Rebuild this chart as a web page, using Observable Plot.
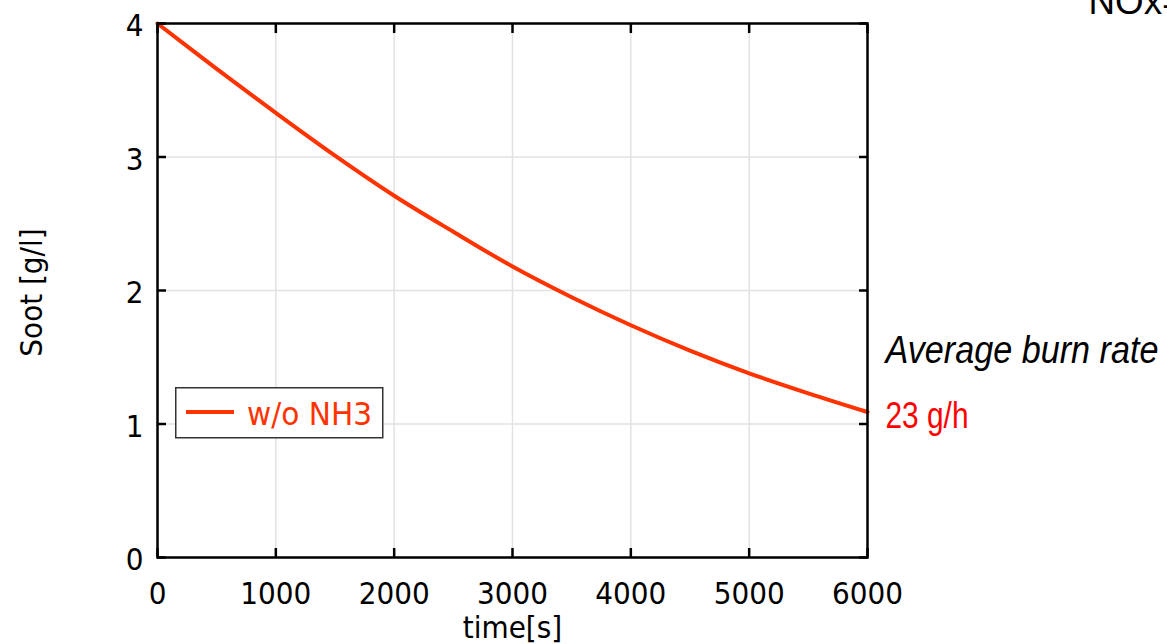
<!DOCTYPE html>
<html>
<head>
<meta charset="utf-8">
<script src="https://cdn.jsdelivr.net/npm/d3@7"></script>
<script src="https://cdn.jsdelivr.net/npm/@observablehq/plot@0.6"></script>
<style>
  html, body { margin: 0; padding: 0; background: #fff; }
  #chart { position: relative; width: 1167px; height: 644px; overflow: hidden; }
  #chart svg text { font-stretch: condensed; }
  #legend { position: absolute; left: 175px; top: 387px; }
</style>
</head>
<body>
<div id="chart"></div>
<script>
// Soot load in the filter over the regeneration time
const timeS  = [0, 500, 1000, 1500, 2000, 2500, 3000, 3500, 4000, 4500, 5000, 5500, 6000];
const sootGL = [4.00, 3.66, 3.33, 3.01, 2.71, 2.44, 2.18, 1.95, 1.74, 1.55, 1.38, 1.23, 1.09];

const xTicks = [0, 1000, 2000, 3000, 4000, 5000, 6000];
const yTicks = [0, 1, 2, 3, 4];

const seriesName = "w/o NH3";
const xTitle = "time[s]";
const yTitle = "Soot [g/l]";
const rateTitle = "Average burn rate";
const rateValue = "23 g/h";
const noxTitle = "NOx=";

const lineColor = "#ff3300";
const tickFont = "'DejaVu Sans', sans-serif";
const noteFont = "'Liberation Sans', Arial, sans-serif";

const rows = timeS.map((t, i) => ({t, soot: sootGL[i]}));
const endPoint = rows[rows.length - 1];

// inward tick marks on all four sides of the frame
const inwardTicks = [
  Plot.axisX({ticks: xTicks, anchor: "bottom", tickSize: -9, strokeWidth: 2.5, fill: "none", label: null}),
  Plot.axisX({ticks: xTicks, anchor: "top", tickSize: -9, strokeWidth: 2.5, fill: "none", label: null}),
  Plot.axisY({ticks: yTicks, anchor: "left", tickSize: -9, strokeWidth: 2.5, fill: "none", label: null}),
  Plot.axisY({ticks: yTicks, anchor: "right", tickSize: -9, strokeWidth: 2.5, fill: "none", label: null})
];

const chart = Plot.plot({
  width: 1167,
  height: 644,
  marginLeft: 157,
  marginRight: 300,
  marginTop: 23,
  marginBottom: 87,
  style: {fontFamily: tickFont, fontSize: "31px", color: "#000", background: "#fff"},
  x: {domain: [0, 6000]},
  y: {domain: [0, 4]},
  marks: [
    Plot.gridX({ticks: xTicks, stroke: "#e2e2e2", strokeOpacity: 1, strokeWidth: 1.5}),
    Plot.gridY({ticks: yTicks, stroke: "#e2e2e2", strokeOpacity: 1, strokeWidth: 1.5}),
    Plot.line(rows, {x: "t", y: "soot", stroke: lineColor, strokeWidth: 4, curve: "catmull-rom"}),
    Plot.frame({stroke: "#000", strokeWidth: 2.5}),
    ...inwardTicks,
    Plot.axisX({ticks: xTicks, anchor: "bottom", tickSize: 0, tickPadding: 24, tickFormat: d => String(d), label: null}),
    Plot.axisY({ticks: yTicks, anchor: "left", tickSize: 0, tickPadding: 14, dy: 3, tickFormat: d => String(d), label: null}),
    Plot.text([xTitle], {frameAnchor: "bottom", text: d => d, textAnchor: "middle", lineAnchor: "bottom", dy: 80}),
    Plot.text([yTitle], {frameAnchor: "left", text: d => d, rotate: -90, textAnchor: "middle", lineAnchor: "bottom", dx: -116, dy: 2}),
    Plot.text([endPoint], {x: "t", y: "soot", text: () => rateTitle, textAnchor: "start", lineAnchor: "bottom",
      dx: 18, dy: -49, fontFamily: noteFont, fontStyle: "italic", fontSize: 39, fill: "#000"}),
    Plot.text([endPoint], {x: "t", y: "soot", text: () => rateValue, textAnchor: "start", lineAnchor: "bottom",
      dx: 18, dy: 16, fontFamily: noteFont, fontSize: 36, fill: "#ff0000"}),
    Plot.text([noxTitle], {frameAnchor: "top-right", text: d => d, textAnchor: "start", lineAnchor: "bottom",
      dx: 221, dy: -10, fontFamily: noteFont, fontSize: 36, fill: "#000"})
  ]
});

const host = document.getElementById("chart");
host.appendChild(chart);

// the annotation face is a narrow sans: fit each note to its set width
const noteWidths = new Map([[rateTitle, 273], [rateValue, 83], [noxTitle, 95]]);
d3.select(chart).selectAll("text").each(function () {
  const w = noteWidths.get(this.textContent);
  if (w) {
    this.setAttribute("textLength", w);
    this.setAttribute("lengthAdjust", "spacingAndGlyphs");
  }
});

// series legend box
const legend = d3.select(host).append("svg")
  .attr("id", "legend")
  .attr("width", 209)
  .attr("height", 52);
legend.append("rect")
  .attr("x", 0.75).attr("y", 0.75).attr("width", 207).attr("height", 50)
  .attr("fill", "#fff").attr("stroke", "#333").attr("stroke-width", 1.5);
legend.append("line")
  .attr("x1", 11).attr("x2", 59).attr("y1", 25).attr("y2", 25)
  .attr("stroke", lineColor).attr("stroke-width", 4);
legend.append("text")
  .attr("x", 72).attr("y", 38)
  .attr("fill", lineColor)
  .attr("textLength", 125)
  .attr("lengthAdjust", "spacingAndGlyphs")
  .style("font-family", tickFont)
  .style("font-stretch", "condensed")
  .style("font-size", "32px")
  .text(seriesName);
</script>
</body>
</html>
